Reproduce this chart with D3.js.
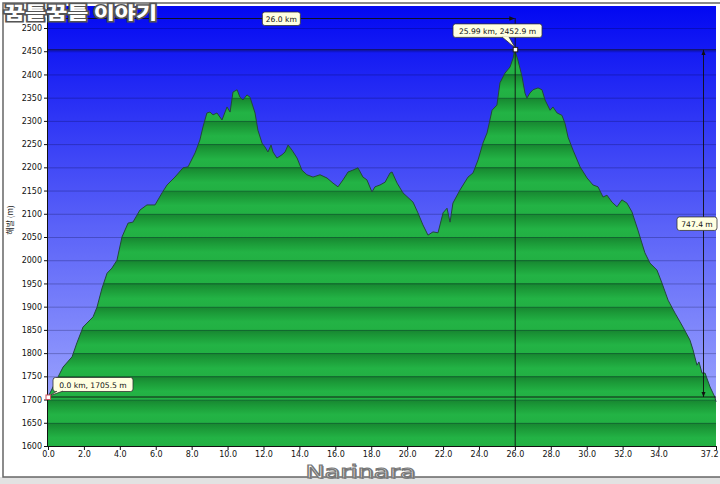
<!DOCTYPE html>
<html><head><meta charset="utf-8">
<script src="https://cdn.jsdelivr.net/npm/d3@7"></script>
<style>body{margin:0;background:#fff;overflow:hidden}svg{display:block}</style>
</head><body>
<svg id="c" width="720" height="484"></svg>
<script>
const distKm = [0,0.67,0.84,1.34,1.61,1.95,2.51,2.73,3.01,3.29,3.56,3.84,4.12,4.46,4.73,5.12,5.51,5.96,6.35,6.63,7.07,7.52,7.80,8.19,8.46,8.63,8.85,9.02,9.19,9.41,9.69,9.97,10.14,10.30,10.53,10.69,10.86,11.08,11.25,11.53,11.69,11.92,12.08,12.25,12.42,12.53,12.75,13.03,13.20,13.37,13.59,13.87,14.14,14.42,14.76,15.15,15.54,15.87,16.15,16.43,16.71,16.98,17.26,17.54,17.76,18.04,18.21,18.49,18.77,19.05,19.16,19.44,19.77,20.33,20.60,20.88,21.16,21.44,21.72,22.00,22.22,22.39,22.55,22.94,23.39,23.67,23.95,24.22,24.45,24.73,25.00,25.17,25.45,25.73,25.90,25.99,26.17,26.40,26.56,26.67,26.84,27.01,27.29,27.51,27.68,27.96,28.12,28.35,28.62,28.79,28.96,29.24,29.63,30.02,30.35,30.63,30.91,31.13,31.41,31.69,31.96,32.24,32.52,32.85,33.24,33.52,33.91,34.19,34.53,34.92,35.36,35.75,35.92,36.14,36.25,36.42,36.59,36.87,37.14,37.20];
const elevM = [1705.5,1757,1770,1792,1822,1856,1878,1899,1940,1972,1983,2000,2050,2080,2082,2108,2119,2119,2145,2162,2179,2199,2201,2231,2259,2287,2317,2319,2313,2317,2302,2330,2319,2362,2367,2351,2345,2356,2351,2317,2280,2252,2244,2233,2248,2233,2220,2227,2233,2248,2237,2220,2194,2184,2179,2184,2177,2166,2158,2173,2190,2194,2199,2179,2173,2147,2158,2162,2168,2188,2190,2166,2145,2125,2102,2076,2054,2061,2059,2102,2112,2082,2123,2151,2179,2188,2216,2252,2274,2323,2334,2382,2403,2416,2435,2452.9,2431,2395,2360,2349,2360,2367,2371,2367,2345,2323,2330,2317,2312,2295,2265,2237,2201,2177,2162,2158,2136,2140,2125,2115,2130,2123,2104,2065,2016,1994,1979,1951,1914,1886,1856,1828,1807,1774,1781,1757,1757,1727,1705,1695];
const yTickValues = d3.range(1600, 2501, 50);
const xTickValues = [0,2,4,6,8,10,12,14,16,18,20,22,24,26,28,30,32,34,37.2];
const startKm = 0.0, startM = 1705.5;
const peakKm = 25.99, peakM = 2452.9;
const startLabel = "0.0 km, 1705.5 m";
const peakLabel = "25.99 km, 2452.9 m";
const distLabel = "26.0 km";
const climbLabel = "747.4 m";
const titleText = "꿈틀꿈틀 이야기";
const yTitle = "해발 (m)";
const markText = "Narinara";

const svg = d3.select("#c");
const L = 48, R = 716, T = 6, B = 446;
const x = d3.scaleLinear().domain([0, 37.2]).range([L, R]);
const y = d3.scaleLinear().domain([1600, 2500]).range([B, 28]);
const data = distKm.map((k, i) => ({km: k, m: elevM[i]}));
const font = "'DejaVu Sans', Verdana, sans-serif";

// frame
svg.append("rect").attr("x",0).attr("y",477).attr("width",720).attr("height",7).attr("fill","#e2e2e2");
svg.append("rect").attr("x",3).attr("y",3).attr("width",720).attr("height",474)
  .attr("fill","none").attr("stroke","#666").attr("stroke-width",1.5);

const defs = svg.append("defs");
const bg = defs.append("linearGradient").attr("id","bg").attr("x1",0).attr("x2",0).attr("y1",0).attr("y2",1);
bg.append("stop").attr("offset","0").attr("stop-color","#0208f2");
bg.append("stop").attr("offset","0.5").attr("stop-color","#5a62f8");
bg.append("stop").attr("offset","1").attr("stop-color","#aab2ff");
const bands = defs.append("linearGradient").attr("id","bands").attr("gradientUnits","userSpaceOnUse")
  .attr("x1",0).attr("x2",0).attr("y1",y(2500)).attr("y2",y(2450)).attr("spreadMethod","repeat");
bands.append("stop").attr("offset","0").attr("stop-color","#178530");
bands.append("stop").attr("offset","0.3").attr("stop-color","#1c9c39");
bands.append("stop").attr("offset","0.65").attr("stop-color","#23b345");
bands.append("stop").attr("offset","1").attr("stop-color","#22b043");
const mk = defs.append("marker").attr("id","arr").attr("viewBox","0 0 10 10").attr("refX",10).attr("refY",5)
  .attr("markerWidth",6).attr("markerHeight",6).attr("orient","auto-start-reverse");
mk.append("path").attr("d","M0,1 L10,5 L0,9 Z").attr("fill","#111");

svg.append("rect").attr("x",L).attr("y",T).attr("width",R-L).attr("height",B-T).attr("fill","url(#bg)");

// area
svg.append("path").datum(data).attr("fill","url(#bands)")
  .attr("d", d3.area().x(d=>x(d.km)).y0(B).y1(d=>y(d.m)));

// gridlines
svg.append("g").selectAll("line").data(yTickValues).join("line")
  .attr("x1",L).attr("x2",R).attr("y1",d=>y(d)+0.5).attr("y2",d=>y(d)+0.5)
  .attr("stroke","#000030").attr("stroke-opacity",0.25).attr("stroke-width",1);

svg.append("path").datum(data).attr("fill","none").attr("stroke","#23483a").attr("stroke-width",1)
  .attr("d", d3.line().x(d=>x(d.km)).y(d=>y(d.m)));

// reference lines
svg.append("line").attr("x1",L).attr("x2",R).attr("y1",y(peakM)).attr("y2",y(peakM)).attr("stroke","#111").attr("stroke-width",0.9);
svg.append("line").attr("x1",L).attr("x2",R).attr("y1",y(startM)).attr("y2",y(startM)).attr("stroke","#111").attr("stroke-width",0.9);
svg.append("line").attr("x1",x(peakKm)+0.5).attr("x2",x(peakKm)+0.5).attr("y1",18).attr("y2",B).attr("stroke","#111").attr("stroke-width",0.9);

// dimension lines
svg.append("line").attr("x1",x(startKm)).attr("x2",x(peakKm)).attr("y1",18.5).attr("y2",18.5)
  .attr("stroke","#111").attr("stroke-width",0.9).attr("marker-end","url(#arr)");
const dimX = 703.5;
svg.append("line").attr("x1",dimX).attr("x2",dimX).attr("y1",y(peakM)).attr("y2",y(startM))
  .attr("stroke","#111").attr("stroke-width",0.9).attr("marker-start","url(#arr)").attr("marker-end","url(#arr)");

// axes
const ya = svg.append("g").attr("transform",`translate(${L},0)`)
  .call(d3.axisLeft(y).tickValues(yTickValues).tickSize(4).tickPadding(2).tickFormat(d3.format("d")));
ya.select(".domain").remove();
ya.selectAll("text").attr("font-family",font).attr("font-size",8).attr("fill","#111");
ya.selectAll("line").attr("stroke","#111");
const xa = svg.append("g").attr("transform",`translate(0,${B})`)
  .call(d3.axisBottom(x).tickValues(xTickValues).tickSize(4).tickPadding(1).tickFormat(d3.format(".1f")));
xa.select(".domain").remove();
xa.selectAll("text").attr("font-family",font).attr("font-size",8).attr("fill","#111");
xa.selectAll("line").attr("stroke","#111");
xa.selectAll(".tick").filter(d=>d===37.2).select("text").attr("text-anchor","end").attr("x",2);
svg.append("line").attr("x1",L).attr("x2",R).attr("y1",B+0.5).attr("y2",B+0.5).attr("stroke","#111");
svg.append("line").attr("x1",L-0.5).attr("x2",L-0.5).attr("y1",T).attr("y2",B).attr("stroke","#111");

svg.append("text").attr("transform","translate(13,220) rotate(-90)").attr("text-anchor","middle")
  .attr("font-family","'Noto Sans CJK KR', sans-serif").attr("font-size",8).attr("fill","#222").text(yTitle);

// callouts
function callout(bx, by, bw, bh, txt, px1, px2, tx, ty) {
  const g = svg.append("g");
  g.append("rect").attr("x",bx).attr("y",by).attr("width",bw).attr("height",bh).attr("rx",2.5)
    .attr("fill","#ffffe1").attr("stroke","#333").attr("stroke-width",0.8);
  if (px1 !== null) {
    g.append("path").attr("d",`M${px1},${by+bh-0.4} L${tx},${ty} L${px2},${by+bh-0.4}`)
      .attr("fill","#ffffe1").attr("stroke","#333").attr("stroke-width",0.8);
  }
  g.append("text").attr("x",bx+bw/2).attr("y",by+bh/2+3).attr("text-anchor","middle")
    .attr("font-family",font).attr("font-size",7.6).attr("fill","#111").text(txt);
}
callout(x(startKm)+5, y(startM)-19.5, 80, 14, startLabel, x(startKm)+9, x(startKm)+15, x(startKm)+1, y(startM)-1);
callout(453, y(peakM)-26, 89, 13.5, peakLabel, 502, 509, x(peakKm)+0.5, y(peakM)-2);
callout((x(startKm)+x(peakKm))/2-19, 12, 38, 13.5, distLabel, null);
callout(677, (y(peakM)+y(startM))/2-6.5, 40, 13.5, climbLabel, null);

// markers
svg.append("rect").attr("x",x(startKm)-2).attr("y",y(startM)-2).attr("width",4.5).attr("height",4.5)
  .attr("fill","#fff").attr("stroke","#d05060").attr("stroke-width",1);
svg.append("rect").attr("x",x(peakKm)-1.5).attr("y",y(peakM)-2.5).attr("width",4.5).attr("height",4.5)
  .attr("fill","#fff").attr("stroke","#222").attr("stroke-width",1);

// title watermark
svg.append("text").attr("x",4).attr("y",19).attr("font-family","'Noto Sans CJK KR', sans-serif")
  .attr("font-weight",900).attr("font-size",17).attr("fill","#fff").attr("stroke","#555").attr("stroke-width",3)
  .attr("paint-order","stroke").attr("textLength",153).attr("lengthAdjust","spacingAndGlyphs").text(titleText);

// bottom watermark
svg.append("text").attr("x",307).attr("y",479).attr("font-family",font).attr("font-size",18)
  .attr("textLength",110).attr("lengthAdjust","spacingAndGlyphs").attr("fill","#888").text(markText);
svg.append("text").attr("x",305.5).attr("y",477.5).attr("font-family",font).attr("font-size",18)
  .attr("textLength",110).attr("lengthAdjust","spacingAndGlyphs").attr("fill","#fff").attr("stroke","#777").attr("stroke-width",1.1).text(markText);
</script>
</body></html>
